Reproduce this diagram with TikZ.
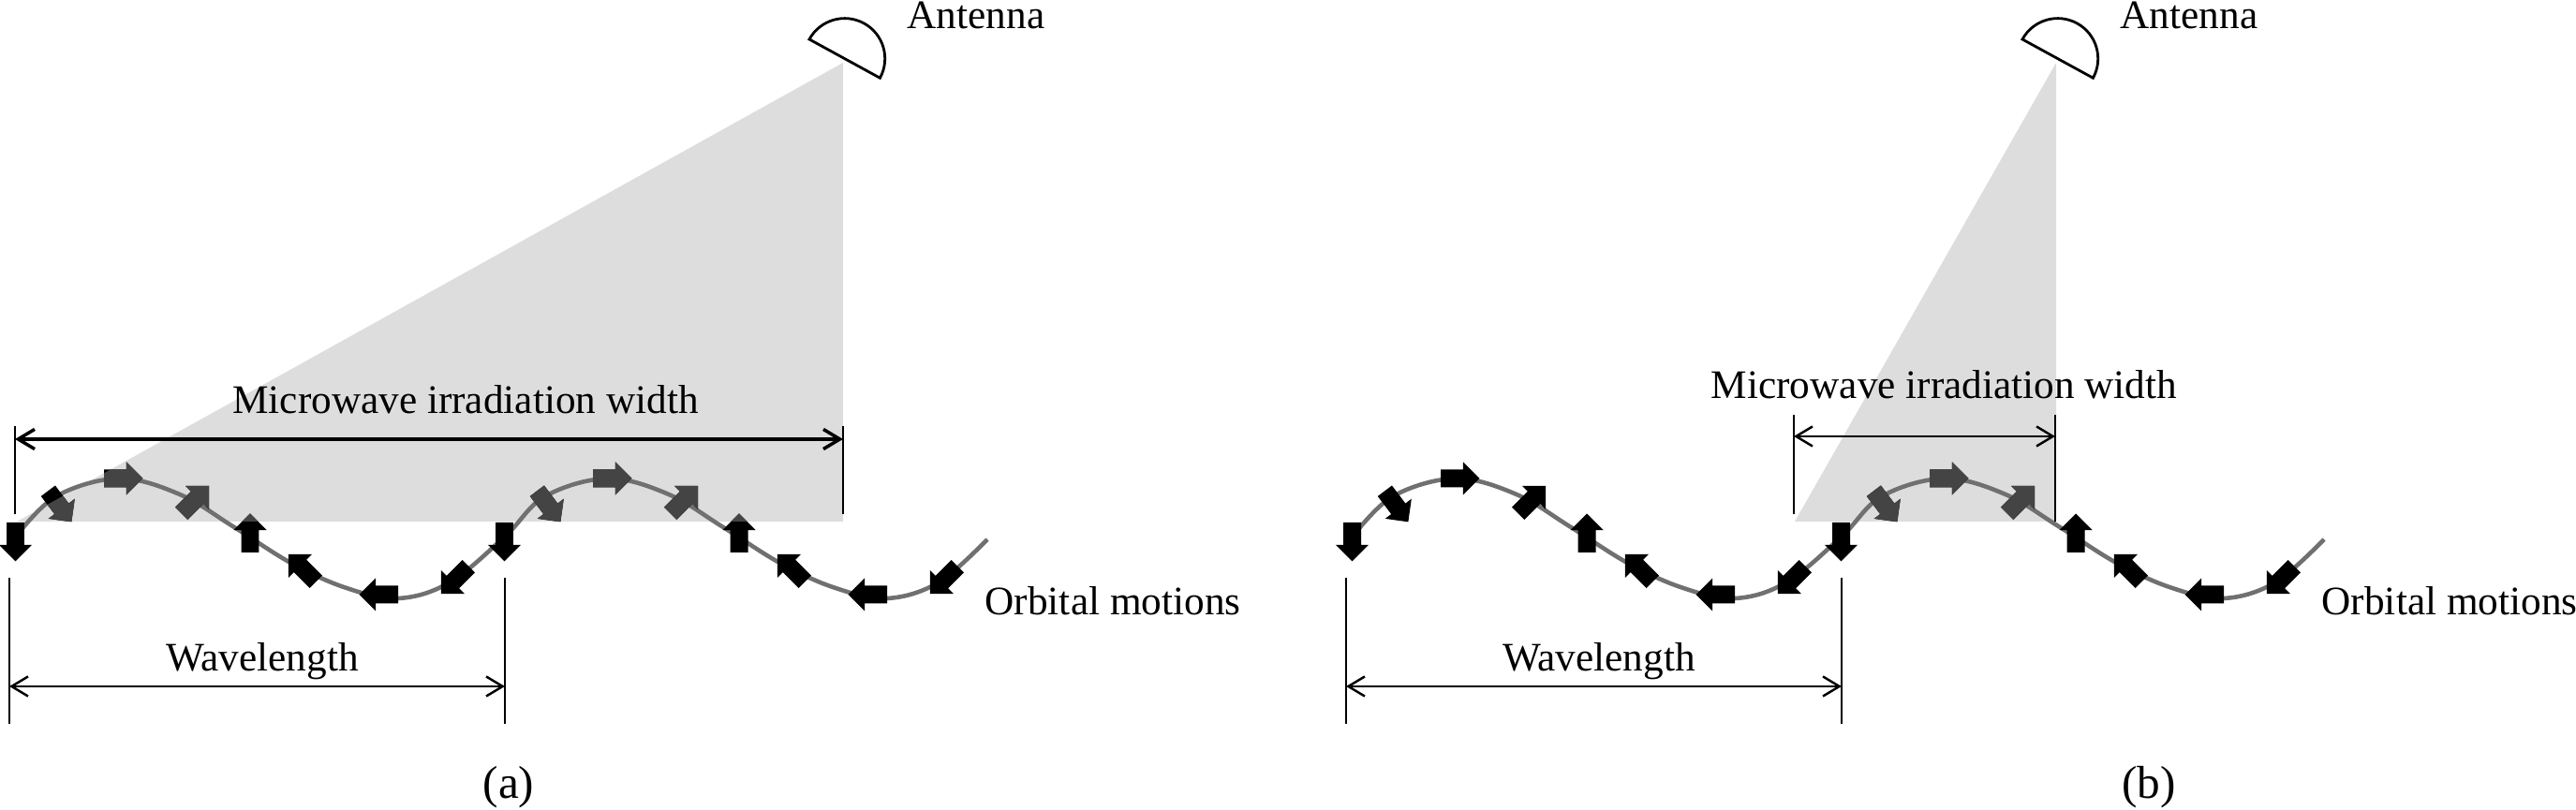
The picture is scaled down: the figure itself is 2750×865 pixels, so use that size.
\documentclass[tikz,border=0pt]{standalone}
\usepackage{fontspec}
\setmainfont{Liberation Serif}
\usetikzlibrary{arrows.meta,shapes.arrows}
\definecolor{beamgray}{HTML}{DDDDDD}
\definecolor{wavegray}{HTML}{707070}
\definecolor{darkarrow}{HTML}{444444}
\tikzset{
  >={Straight Barb[length=5pt,width=6pt]},
  lbl/.style={inner sep=0pt, font=\fontsize{12.3}{14}\selectfont},
  orbit arrow/.style={single arrow, inner sep=2.5pt, minimum height=11.8pt, minimum width=9.6pt,
    single arrow head extend=2.3pt, draw=none},
  dim line/.style={<->, line width=0.7pt},
  tick line/.style={line width=0.7pt},
  beam/.style={fill=beamgray},
  dish/.style={line width=0.8pt}
}
\newcommand{\orbitarrows}[2]{
  \foreach \k in {0,1}
    \foreach \n/\px/\py/\dir in {1/16.5/574/-90, 2/61/537/-53, 3/127/511/0, 4/205/537/45,
        5/267/574/90, 6/326/610/135, 7/409/635/180, 8/489/616/225}
      \node[orbit arrow, fill=#2, rotate=\dir] (#1\k\n) at ({\px+522*\k},\py) {};
}
\begin{document}
\begin{tikzpicture}[x=0.01cm, y=-0.01cm]
  \useasboundingbox (0,0) rectangle (2750,865);
  \foreach \p/\off/\ax/\bl/\lx in {a/0/0/18/543, b/1427/1295/1916/2294} {
    \coordinate (\p apex) at ({900+\ax},67);
    \coordinate (\p left) at (\bl,557);
    \coordinate (\p right) at ({900+\ax},557);
    \fill[beam] (\p apex) -- (\p left) -- (\p right) -- cycle;
    % antenna
    \coordinate (\p dishA) at ({864+\ax},42);
    \draw[dish] (\p dishA) arc[start angle=208.7, end angle=388.7, radius=43] -- cycle;
    \node[lbl, anchor=base west] (\p antenna) at ({968+\ax},31) {Antenna};
    \begin{scope}[shift={(\off,0)}]
      % two periods of the wave
      \draw[wavegray, line width=1.3pt] plot[smooth, tension=0.6] coordinates {
        (17,573) (60,530) (127,511) (192,528) (250,563) (312,602)
        (370,628) (425,639) (480,622) (539,573)
        (582,530) (649,511) (714,528) (772,563) (834,602)
        (892,628) (947,639) (1002,622) (1054,576)};
      \orbitarrows{\p w}{black}
      \begin{scope}[shift={(-\off,0)}]
        \clip (\p apex) -- (\p left) -- (\p right) -- cycle;
        \begin{scope}[shift={(\off,0)}]
          \orbitarrows{\p s}{darkarrow}
        \end{scope}
      \end{scope}
      \node[lbl, anchor=base west] (\p orbit) at (1051,657) {Orbital motions};
      % wavelength
      \coordinate (\p wlAtop) at (10,617);
      \coordinate (\p wlAbot) at (10,773);
      \coordinate (\p wlBtop) at (539,617);
      \coordinate (\p wlBbot) at (539,773);
      \coordinate (\p wlA) at (10,733);
      \coordinate (\p wlB) at (539,733);
      \draw[tick line] (\p wlAtop) -- (\p wlAbot);
      \draw[tick line] (\p wlBtop) -- (\p wlBbot);
      \draw[dim line] (\p wlA) -- (\p wlB);
      \node[lbl, anchor=base] (\p wlabel) at (280,717) {Wavelength};
    \end{scope}
    \node[lbl, anchor=base, font=\fontsize{14}{16}\selectfont] (\p caption) at (\lx,853) {(\p)};
  }
  % irradiation width, panel a
  \coordinate (aTickLt) at (16,455);
  \coordinate (aTickLb) at (16,549);
  \coordinate (aTickRt) at (900,455);
  \coordinate (aTickRb) at (900,549);
  \coordinate (aWidL) at (16,469);
  \coordinate (aWidR) at (900,469);
  \draw[tick line] (aTickLt) -- (aTickLb);
  \draw[tick line] (aTickRt) -- (aTickRb);
  \draw[dim line, line width=1pt] (aWidL) -- (aWidR);
  \node[lbl, anchor=base] (awidth) at (497,442) {Microwave irradiation width};
  % irradiation width, panel b
  \coordinate (bTickLt) at (1915,443);
  \coordinate (bTickLb) at (1915,549);
  \coordinate (bTickRt) at (2194,443);
  \coordinate (bTickRb) at (2194,557);
  \coordinate (bWidL) at (1915,466);
  \coordinate (bWidR) at (2194,466);
  \draw[tick line] (bTickLt) -- (bTickLb);
  \draw[tick line] (bTickRt) -- (bTickRb);
  \draw[dim line] (bWidL) -- (bWidR);
  \node[lbl, anchor=base] (bwidth) at (2075.5,426) {Microwave irradiation width};
\end{tikzpicture}
\end{document}
